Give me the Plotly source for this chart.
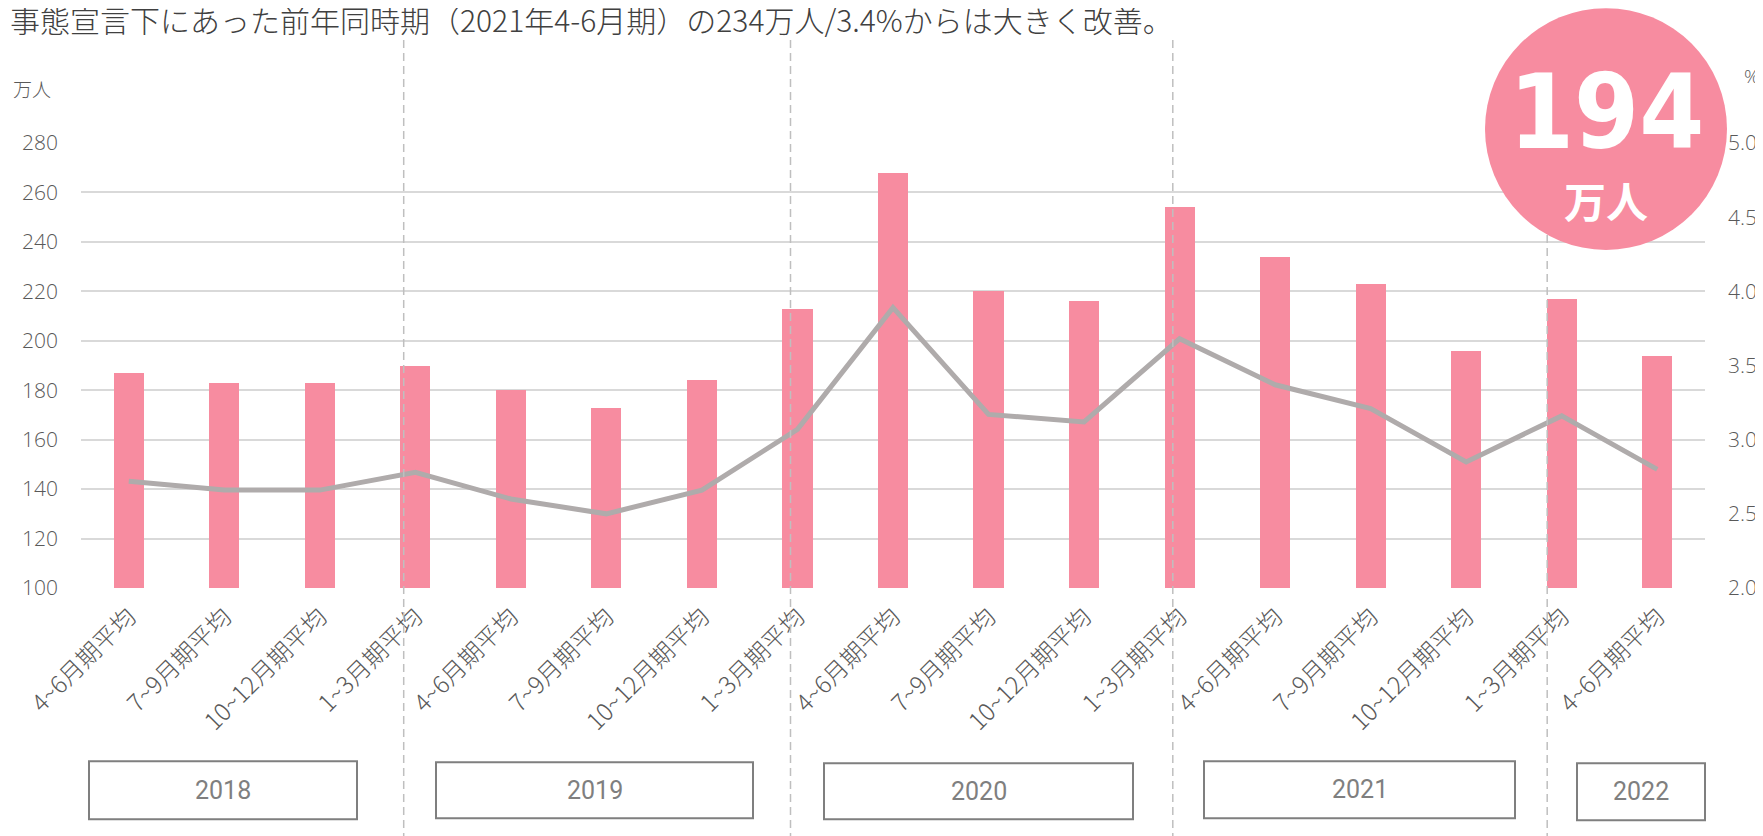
import plotly.graph_objects as go

# ---- data ----
categories = ["4~6月期平均", "7~9月期平均", "10~12月期平均", "1~3月期平均",
              "4~6月期平均", "7~9月期平均", "10~12月期平均", "1~3月期平均",
              "4~6月期平均", "7~9月期平均", "10~12月期平均", "1~3月期平均",
              "4~6月期平均", "7~9月期平均", "10~12月期平均", "1~3月期平均",
              "4~6月期平均"]
unemployed = [187, 183, 183, 190, 180, 173, 184, 213, 268, 220, 216, 254, 234, 223, 196, 217, 194]
rate = [2.72, 2.66, 2.66, 2.78, 2.60, 2.50, 2.66, 3.07, 3.89, 3.17, 3.12, 3.68, 3.37, 3.21, 2.85, 3.16, 2.80]
years = ["2018", "2019", "2020", "2021", "2022"]
title_text = "事態宣言下にあった前年同時期（2021年4-6月期）の234万人/3.4%からは大きく改善。"
highlight_value = "194"
highlight_unit = "万人"

# ---- layout geometry ----
# the page body has an 8px margin, so the figure is 8px smaller and
# reference-pixel positions are converted accordingly
PAGE = 8
W, H = 1763 - PAGE, 836 - PAGE
L, R, T, B = 81 - PAGE, 58, 143 - PAGE, 247.5
PW = W - L - R
PH = H - T - B

def px(x):
    """reference pixel x -> paper coordinate"""
    return (x - PAGE - L) / PW

def py(y):
    """reference pixel y -> paper coordinate"""
    return (H - B - (y - PAGE)) / PH

FONT = "Open Sans, Noto Sans CJK JP, sans-serif"
CJK = "Noto Sans CJK JP, sans-serif"
PINK = "#F78CA0"
GRAY_TXT = "#595959"

idx = list(range(len(categories)))

fig = go.Figure()
fig.add_trace(go.Bar(x=idx, y=unemployed, marker_color=PINK, width=0.315,
                     marker_line_width=0, yaxis="y", showlegend=False))
fig.add_trace(go.Scatter(x=idx, y=rate, mode="lines", yaxis="y2",
                         line=dict(color="#AFABAB", width=5), showlegend=False))

shapes = []
# year separators (dashed)
for xp in [403.7, 790.5, 1172.8, 1547.2]:
    shapes.append(dict(type="line", xref="paper", yref="paper",
                       x0=px(xp), x1=px(xp), y0=py(40), y1=py(840),
                       line=dict(color="#BFBFBF", width=1.5, dash="8px,5px"), layer="above"))
# year boxes
boxes = [(89, 357, 762, 820), (436, 753, 763, 819), (824, 1133, 764, 820),
         (1204, 1515, 762, 819), (1577, 1705, 764, 821)]
for (x0, x1, y0, y1) in boxes:
    shapes.append(dict(type="rect", xref="paper", yref="paper",
                       x0=px(x0), x1=px(x1), y0=py(y1), y1=py(y0),
                       line=dict(color="#7F7F7F", width=2), fillcolor="white", layer="above"))
# highlight circle
cx, cy, r = 1606, 129, 121
shapes.append(dict(type="circle", xref="paper", yref="paper",
                   x0=px(cx - r), x1=px(cx + r), y0=py(cy + r), y1=py(cy - r),
                   line=dict(width=0), fillcolor=PINK, layer="above"))

annotations = []
for (x0, x1, y0, y1), yr in zip(boxes, years):
    annotations.append(dict(text=yr, xref="paper", yref="paper", x=px((x0 + x1) / 2), y=py((y0 + y1) / 2),
                            showarrow=False, xanchor="center", yanchor="middle",
                            font=dict(family="Liberation Sans Narrow, Roboto, sans-serif", size=25, color="#7F7F7F")))
annotations.append(dict(text=title_text, xref="paper", yref="paper", x=px(PAGE), y=py(19),
                        showarrow=False, xanchor="left", yanchor="middle",
                        font=dict(family=CJK, size=30, color="#404040", weight=300)))
annotations.append(dict(text="万人", xref="paper", yref="paper", x=px(11), y=py(88),
                        showarrow=False, xanchor="left", yanchor="middle",
                        font=dict(family=CJK, size=19, color=GRAY_TXT, weight=300)))
annotations.append(dict(text="%", xref="paper", yref="paper", x=px(1761), y=py(76),
                        showarrow=False, xanchor="right", yanchor="middle",
                        font=dict(family=FONT, size=19, color=GRAY_TXT, weight=300)))
annotations.append(dict(text=highlight_value, xref="paper", yref="paper", x=px(cx), y=py(112),
                        showarrow=False, xanchor="center", yanchor="middle",
                        font=dict(family="Liberation Sans Narrow, DejaVu Sans Condensed, Roboto, sans-serif",
                                  size=104, color="white", weight=900)))
annotations.append(dict(text="<b>" + highlight_unit + "</b>", xref="paper", yref="paper", x=px(cx), y=py(200),
                        showarrow=False, xanchor="center", yanchor="middle",
                        font=dict(family=CJK, size=42, color="white")))

fig.update_layout(
    template="none",
    width=W, height=H,
    margin=dict(l=L, r=R, t=T, b=B, pad=0, autoexpand=False),
    paper_bgcolor="white", plot_bgcolor="white",
    bargap=0,
    xaxis=dict(tickmode="array", tickvals=idx, ticktext=categories, tickangle=-45,
               range=[-0.5, len(categories) - 0.5], showgrid=False, zeroline=False,
               showline=False, ticks="", ticklabelstandoff=9, automargin=False,
               tickfont=dict(family=CJK, size=24, color=GRAY_TXT, weight=300)),
    yaxis=dict(range=[100, 280], dtick=20, showgrid=True, gridcolor="#D9D9D9", gridwidth=2,
               zeroline=False, showline=False, ticks="", ticklabelstandoff=22, automargin=False,
               tickfont=dict(family=FONT, size=21, color=GRAY_TXT, weight=300)),
    yaxis2=dict(range=[2, 5], dtick=0.5, tickformat=".1f", overlaying="y", side="right",
                showgrid=False, zeroline=False, showline=False, ticks="", ticklabelstandoff=22,
                automargin=False,
                tickfont=dict(family=FONT, size=21, color=GRAY_TXT, weight=300)),
    shapes=shapes, annotations=annotations,
)

fig.write_html("out.html")
